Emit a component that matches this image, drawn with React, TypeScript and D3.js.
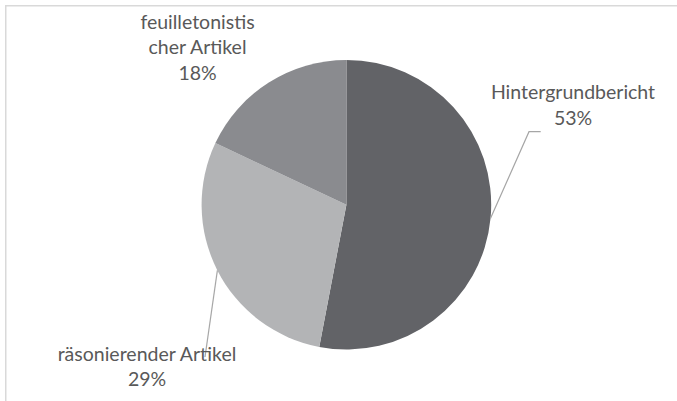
import React from "react";
import * as d3 from "d3";

const categories = ["Hintergrundbericht", "räsonierender Artikel", "feuilletonistischer Artikel"];
const values = [53, 29, 18];
const labelLines = [["Hintergrundbericht", "53%"], ["räsonierender Artikel", "29%"], ["feuilletonistis", "cher Artikel", "18%"]];
const colors = ["#626367", "#b3b4b6", "#8a8b8f"];

const W = 677;
const H = 401;
const cx = 346.4;
const cy = 204.7;
const R = 144.8;
const FONT = "Lato, 'Open Sans', sans-serif";
const FS = 19.5;
const LH = 25.6;
const TEXT = "#595959";

// label layout: center x, first baseline y, leader elbow points (or null)
const labelLayout = [
  { x: 573, y: 99.3, elbow: [[529, 131.7], [540.7, 131.7]] },
  { x: 147, y: 360.5, elbow: [[205, 357]] },
  { x: 197.5, y: 28.8, elbow: null },
];

export default function App() {
  const pie = d3.pie<number>().sort(null).value((d) => d)(values);
  const arc = d3.arc<d3.PieArcDatum<number>>().innerRadius(0).outerRadius(R);
  return (
    <div style={{ position: "absolute", left: 0, top: 0, width: W, height: H, background: "#fff" }}>
      <svg width={W} height={H} style={{ display: "block" }}>
        <rect x={0} y={0} width={W} height={H} fill="#fff" />
        <path d={`M5.75,${H} L5.75,5.75 L${W},5.75`} fill="none" stroke="#d9d9d9" strokeWidth={1.5} />
        <g transform={`translate(${cx},${cy})`}>
          {pie.map((p, i) => (
            <path key={categories[i]} d={arc(p) || ""} fill={colors[i]} />
          ))}
        </g>
        {pie.map((p, i) => {
          const L = labelLayout[i];
          if (!L.elbow) return null;
          const mid = (p.startAngle + p.endAngle) / 2;
          const sx = cx + R * Math.sin(mid);
          const sy = cy - R * Math.cos(mid);
          const pts = [[sx, sy], ...L.elbow];
          return (
            <polyline
              key={"l" + i}
              points={pts.map((q) => q.join(",")).join(" ")}
              fill="none"
              stroke="#a6a6a6"
              strokeWidth={1.2}
            />
          );
        })}
        {labelLines.map((lines, i) => (
          <text
            key={"t" + i}
            x={labelLayout[i].x}
            y={labelLayout[i].y}
            textAnchor="middle"
            fontFamily={FONT}
            fontSize={FS}
            fill={TEXT}
          >
            {lines.map((s, j) => (
              <tspan key={j} x={labelLayout[i].x} dy={j === 0 ? 0 : LH}>
                {s}
              </tspan>
            ))}
          </text>
        ))}
      </svg>
    </div>
  );
}
